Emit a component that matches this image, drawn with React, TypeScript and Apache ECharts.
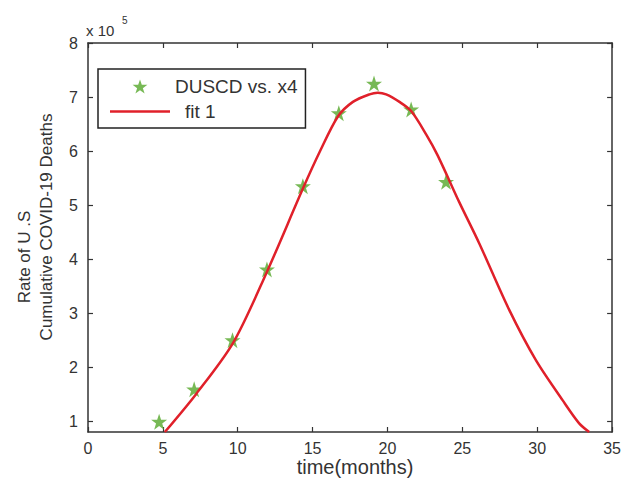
import React, { useEffect, useRef } from "react";
import * as echarts from "echarts";

// Data (values in units of 10^5)
const starX = [4.75, 7.09, 9.65, 11.95, 14.35, 16.75, 19.1, 21.58, 23.91];
const starY = [0.99, 1.59, 2.5, 3.81, 5.35, 6.7, 7.25, 6.77, 5.43];
const fitX = [5.13, 7.24, 9.69, 11.91, 14.36, 15.5, 16.69, 17.69, 18.8, 19.35, 19.91, 20.8, 21.58, 22.6, 23.35, 24.8, 26.13, 28.13, 29.91, 31.69, 32.8, 33.47];
const fitY = [0.8, 1.51, 2.45, 3.74, 5.31, 6.0, 6.64, 6.91, 7.05, 7.08, 7.05, 6.91, 6.74, 6.3, 5.92, 5.05, 4.29, 3.06, 2.13, 1.39, 0.96, 0.8];
const yTickValues = [1, 2, 3, 4, 5, 6, 7, 8];
const seriesNames = ["DUSCD vs. x4", "fit 1"];
const xAxisTitle = "time(months)";
const yAxisTitleLines = ["Rate of U .S", "Cumulative COVID-19 Deaths"];
const multiplierBase = "x 10";
const multiplierExp = "5";

const FONT = "'Liberation Sans', Arial, sans-serif";
const TEXT = "#333";
const AXIS = "#333";
const RED = "#e0202a";
const STAR =
  "path://M50,0 L61.8,35.1 L98.6,35.1 L68.8,56.8 L80.2,91.9 L50,70.2 L19.8,91.9 L31.2,56.8 L1.4,35.1 L38.2,35.1 Z";
const LINE_ICON = "path://M0,0 L60,0 L60,2.5 L0,2.5 Z";

export default function App() {
  const ref = useRef<HTMLDivElement>(null);
  useEffect(() => {
    if (!ref.current) return;
    const chart = echarts.init(ref.current, undefined, { renderer: "svg" });
    const axisCommon = {
      axisLine: { show: true, onZero: false, lineStyle: { color: AXIS, width: 1.5 } },
      axisTick: { show: true, inside: true, length: 5, lineStyle: { color: AXIS, width: 1.2 } },
      splitLine: { show: false },
    };
    chart.setOption({
      animation: false,
      backgroundColor: "#fff",
      textStyle: { fontFamily: FONT },
      grid: { left: 88, right: 11, top: 43, bottom: 52, containLabel: false },
      legend: {
        orient: "vertical",
        left: 98,
        top: 69,
        padding: [8, 8, 7, 12],
        itemWidth: 60,
        itemHeight: 14,
        itemGap: 6,
        symbolKeepAspect: true,
        borderColor: "#222",
        borderWidth: 1.5,
        backgroundColor: "#fff",
        textStyle: { fontSize: 19, color: TEXT, fontFamily: FONT },
        data: [
          { name: seriesNames[0] },
          { name: seriesNames[1], icon: LINE_ICON, itemStyle: { color: RED }, textStyle: { padding: [0, 0, 0, 10] } },
        ],
      },
      xAxis: [
        {
          type: "value",
          min: 0,
          max: 35,
          interval: 5,
          position: "bottom",
          ...axisCommon,
          axisLabel: { fontSize: 16, color: TEXT, margin: 8, fontFamily: FONT },
        },
        {
          type: "value",
          min: 0,
          max: 35,
          interval: 5,
          position: "top",
          ...axisCommon,
          axisLabel: { show: false },
        },
      ],
      yAxis: [
        {
          type: "value",
          min: 0.8,
          max: 8,
          position: "left",
          ...axisCommon,
          axisTick: { ...axisCommon.axisTick, customValues: yTickValues },
          axisLabel: { fontSize: 16, color: TEXT, margin: 10, fontFamily: FONT, customValues: yTickValues },
        },
        {
          type: "value",
          min: 0.8,
          max: 8,
          position: "right",
          ...axisCommon,
          axisTick: { ...axisCommon.axisTick, customValues: yTickValues },
          axisLabel: { show: false, customValues: yTickValues },
        },
      ],
      series: [
        {
          name: seriesNames[0],
          type: "scatter",
          symbol: STAR,
          symbolSize: 16,
          itemStyle: { color: "#55a82a" },
          data: starX.map((x, i) => [x, starY[i]]),
        },
        {
          name: seriesNames[1],
          type: "line",
          symbol: "none",
          smooth: 0.3,
          lineStyle: { color: RED, width: 2.5 },
          itemStyle: { color: RED },
          data: fitX.map((x, i) => [x, fitY[i]]),
        },
      ],
      graphic: [
        {
          type: "text",
          x: 24,
          y: 257,
          rotation: Math.PI / 2,
          style: { text: yAxisTitleLines[0], fontSize: 17, fill: TEXT, fontFamily: FONT, align: "center", verticalAlign: "middle" },
        },
        {
          type: "text",
          x: 46,
          y: 227,
          rotation: Math.PI / 2,
          style: { text: yAxisTitleLines[1], fontSize: 17, fill: TEXT, fontFamily: FONT, align: "center", verticalAlign: "middle" },
        },
        {
          type: "text",
          x: 355,
          y: 467,
          style: { text: xAxisTitle, fontSize: 20, fill: TEXT, fontFamily: FONT, align: "center", verticalAlign: "middle" },
        },
        {
          type: "text",
          x: 86,
          y: 30,
          style: { text: multiplierBase, fontSize: 15, fill: TEXT, fontFamily: FONT, align: "left", verticalAlign: "middle" },
        },
        {
          type: "text",
          x: 122,
          y: 20,
          style: { text: multiplierExp, fontSize: 10, fill: TEXT, fontFamily: FONT, align: "left", verticalAlign: "middle" },
        },
      ],
    });
    return () => chart.dispose();
  }, []);
  return (
    <div
      ref={ref}
      style={{ position: "fixed", left: 0, top: 0, width: 624, height: 484, background: "#fff" }}
    />
  );
}
